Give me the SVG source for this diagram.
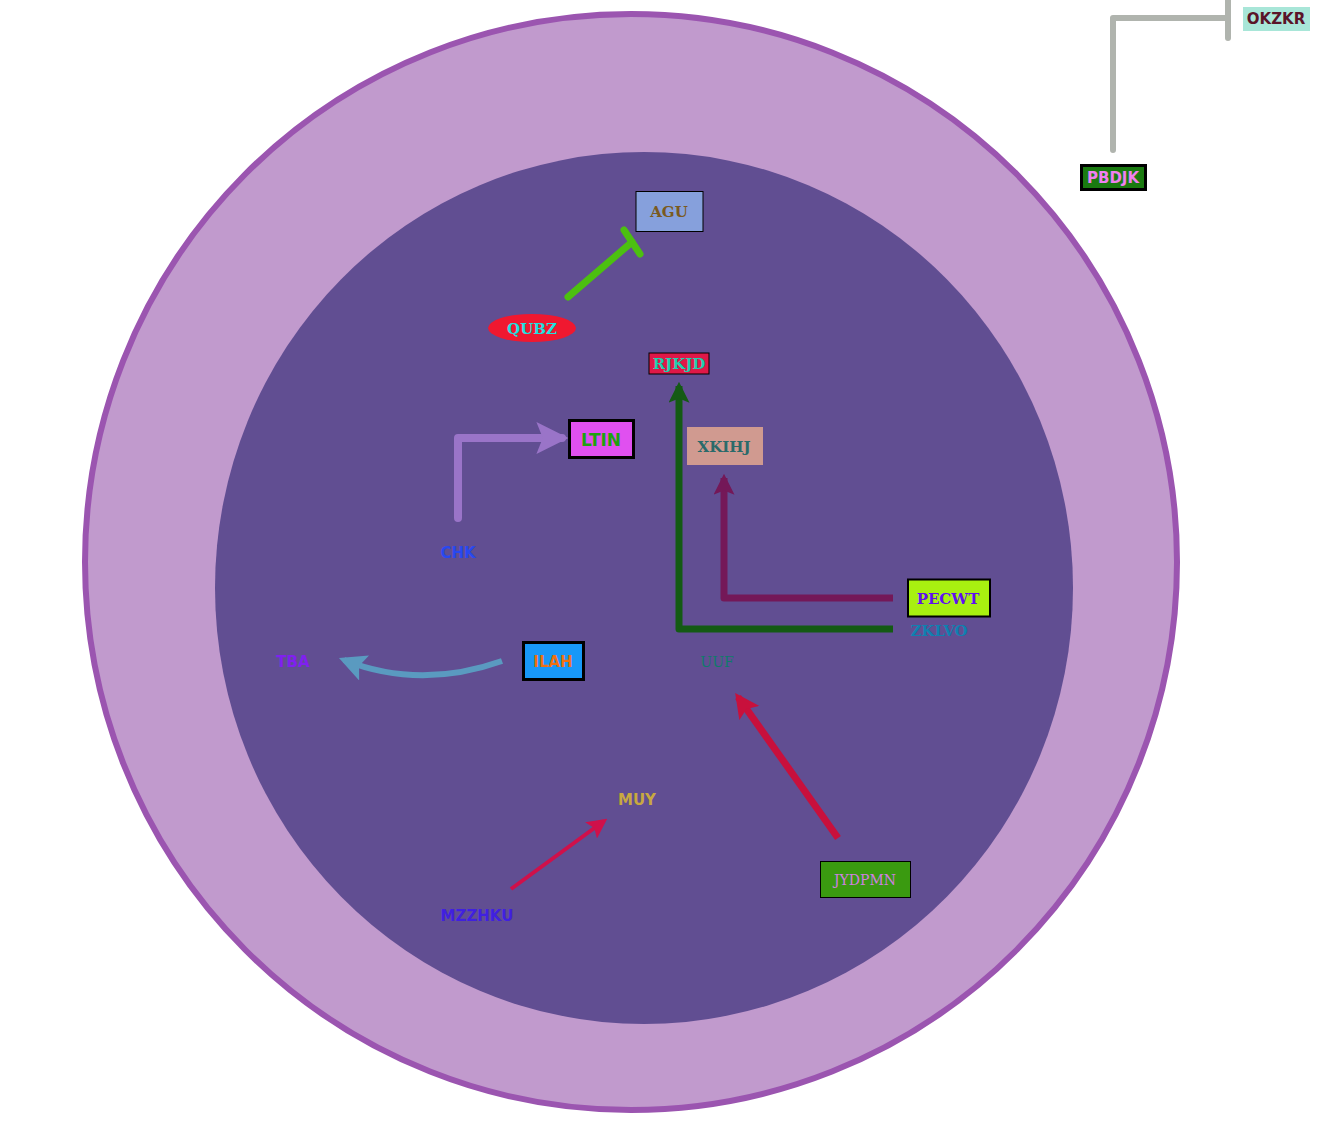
<svg xmlns="http://www.w3.org/2000/svg" width="1325" height="1137" viewBox="0 0 1325 1137">
<style>
.s{font-family:"DejaVu Sans","Liberation Sans",sans-serif;font-weight:bold;font-size:15px;text-anchor:middle;dominant-baseline:central}
.f{font-family:"DejaVu Serif","Liberation Serif",serif;font-weight:bold;font-size:15px;text-anchor:middle;dominant-baseline:central}
.e{fill:none;stroke-linecap:round;stroke-linejoin:round}
</style>
<defs>
<marker id="a1" viewBox="0 0 10 10" refX="8" refY="5" markerWidth="4" markerHeight="4" orient="auto" markerUnits="strokeWidth"><path d="M0,0 L10,5 L0,10 L2,5 Z" fill="#9a74c8"/></marker>
<marker id="a2" viewBox="0 0 10 10" refX="8" refY="5" markerWidth="3" markerHeight="3" orient="auto" markerUnits="strokeWidth"><path d="M0,0 L10,5 L0,10 L2,5 Z" fill="#741858"/></marker>
<marker id="a3" viewBox="0 0 10 10" refX="8" refY="5" markerWidth="3" markerHeight="3" orient="auto" markerUnits="strokeWidth"><path d="M0,0 L10,5 L0,10 L2,5 Z" fill="#145a14"/></marker>
<marker id="a4" viewBox="0 0 10 10" refX="8" refY="5" markerWidth="4.5" markerHeight="4.5" orient="auto" markerUnits="strokeWidth"><path d="M0,0 L10,5 L0,10 L2,5 Z" fill="#5a9ac0"/></marker>
<marker id="a5" viewBox="0 0 10 10" refX="8" refY="5" markerWidth="3.5" markerHeight="3.5" orient="auto" markerUnits="strokeWidth"><path d="M0,0 L10,5 L0,10 L2,5 Z" fill="#c8103c"/></marker>
<marker id="a6" viewBox="0 0 10 10" refX="8" refY="5" markerWidth="5" markerHeight="5" orient="auto" markerUnits="strokeWidth"><path d="M0,0 L10,5 L0,10 L2,5 Z" fill="#d0104a"/></marker>
</defs>
<g id="compartments">
<ellipse cx="631" cy="562" rx="546" ry="548" fill="#c19acd" stroke="#9b55b0" stroke-width="6"/>
<ellipse cx="644" cy="588" rx="429" ry="436" fill="#614e92"/>
</g>
<g id="connectors">
<path class="e" d="M1113,150 L1113,18 L1228,18" stroke="#b0b4ae" stroke-width="6"/>
<path class="e" d="M1228,0 L1228,38" stroke="#b0b4ae" stroke-width="6"/>
<path class="e" d="M568,297 L632,242" stroke="#4cc010" stroke-width="7"/>
<path class="e" d="M624,230 L640,254" stroke="#4cc010" stroke-width="7"/>
<path d="M458,518 L458,438 L562,438" fill="none" stroke="#9a74c8" stroke-width="8" stroke-linejoin="round" stroke-linecap="round" marker-end="url(#a1)"/>
<path d="M893,598 L724,598 L724,478" fill="none" stroke="#741858" stroke-width="7" stroke-linejoin="round" marker-end="url(#a2)"/>
<path d="M893,629 L679,629 L679,386" fill="none" stroke="#145a14" stroke-width="7" stroke-linejoin="round" marker-end="url(#a3)"/>
<path d="M502,661 Q420,690 344,660" fill="none" stroke="#5a9ac0" stroke-width="6" marker-end="url(#a4)"/>
<path d="M838,838 L738,697" fill="none" stroke="#c8103c" stroke-width="7" marker-end="url(#a5)"/>
<path d="M511,889 L604,821" fill="none" stroke="#d0104a" stroke-width="4" marker-end="url(#a6)"/>
</g>
<g id="OKZKR"><rect x="1243" y="7" width="67" height="24" fill="#a8e6d8"/><text class="s" x="1276" y="19" fill="#5a1428">OKZKR</text></g>
<g id="PBDJK"><rect x="1081.5" y="165.5" width="64" height="24" fill="#1a7a10" stroke="#000" stroke-width="3"/><text class="s" x="1113" y="178" fill="#f080f0">PBDJK</text></g>
<g id="AGU"><rect x="636" y="191.5" width="67" height="40" fill="#86a0dc" stroke="#000" stroke-width="1"/><text class="f" x="669" y="212" fill="#7a5a20" font-size="18">AGU</text></g>
<g id="QUBZ"><ellipse cx="532" cy="328" rx="44" ry="14" fill="#f01830"/><text class="f" x="532" y="329" fill="#20e0e0" font-size="18">QUBZ</text></g>
<g id="RJKJD"><rect x="649" y="353" width="60" height="21" fill="#e01848" stroke="#000" stroke-width="1"/><text class="f" x="679" y="364" fill="#20d0b0">RJKJD</text></g>
<g id="LTIN"><rect x="569.5" y="420.5" width="64" height="37" fill="#e050f0" stroke="#000" stroke-width="3"/><text x="601" y="440" fill="#20a010" font-family="DejaVu Sans, sans-serif" font-weight="bold" font-size="17" text-anchor="middle" dominant-baseline="central">LTIN</text></g>
<g id="XKIHJ"><rect x="687" y="427" width="76" height="38" fill="#d09a90"/><text class="f" x="724" y="447" fill="#2a6a6a">XKIHJ</text></g>
<g id="CHK"><text class="s" x="458" y="553" fill="#2848f0" font-size="16">CHK</text></g>
<g id="PECWT"><rect x="908" y="579.5" width="82" height="37" fill="#a8f010" stroke="#000" stroke-width="2"/><text class="f" x="948" y="599" fill="#6010f0">PECWT</text></g>
<g id="ZKLVO"><text class="f" x="939" y="631" fill="#1080b0">ZKLVO</text></g>
<g id="UUF"><text x="717" y="662" fill="#107a6a" font-family="DejaVu Serif, serif" font-size="14" text-anchor="middle" dominant-baseline="central">UUF</text></g>
<g id="TBA"><text class="s" x="293" y="662" fill="#8020f0" font-size="14">TBA</text></g>
<g id="ILAH"><rect x="523.5" y="642.5" width="60" height="37" fill="#1898f8" stroke="#000" stroke-width="3"/><text class="s" x="553" y="662" fill="#f07010" font-weight="normal" font-size="16">ILAH</text></g>
<g id="MUY"><text class="s" x="637" y="800" fill="#c8a840" font-size="15">MUY</text></g>
<g id="MZZHKU"><text class="s" x="477" y="916" fill="#4020e0" font-size="15">MZZHKU</text></g>
<g id="JYDPMN"><rect x="820.5" y="861.5" width="90" height="36" fill="#3a9a10" stroke="#000" stroke-width="1"/><text x="865" y="880" fill="#d080e0" font-family="DejaVu Serif, serif" font-size="14" text-anchor="middle" dominant-baseline="central">JYDPMN</text></g>
</svg>
